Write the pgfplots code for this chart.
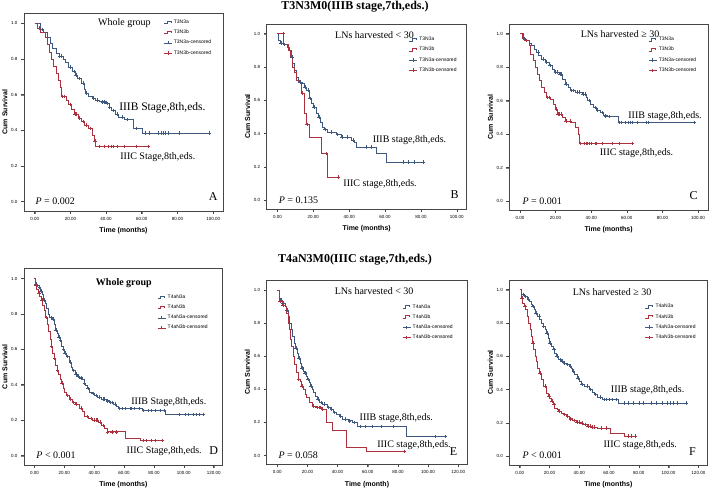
\documentclass[border=0pt]{standalone}
\usepackage{fontspec}
\setmainfont{Liberation Serif}
\setsansfont{Liberation Sans}
\usepackage{pgfplots}
\pgfplotsset{compat=1.18}
\definecolor{kmblue}{RGB}{62,88,128}
\definecolor{kmred}{RGB}{172,48,62}
\definecolor{framec}{RGB}{70,70,70}
\newcommand{\tk}[1]{{\sffamily\fontsize{4.5}{5}\selectfont #1}}
\pgfplotsset{
  km/.style={
    scale only axis, clip=false,
    anchor=south west,
    axis line style={draw=black!80, line width=0.6pt},
    xtick pos=bottom, ytick pos=left, tick align=outside,
    major tick length=3pt,
    ymin=-0.053, ymax=1.058,
    ytick={0,0.2,0.4,0.6,0.8,1},
    yticklabels={\tk{0.0},\tk{0.2},\tk{0.4},\tk{0.6},\tk{0.8},\tk{1.0}},
    xlabel={Time (months)}, ylabel={Cum Survival},
    xlabel style={font=\sffamily\bfseries\fontsize{7}{8}\selectfont, at={(axis description cs:0.5,0)}, anchor=center, yshift=-20pt},
    ylabel style={font=\sffamily\bfseries\fontsize{7}{8}\selectfont, at={(axis description cs:-0.096,0.5)}, anchor=center},
    legend style={draw=none, fill=none, font=\sffamily\fontsize{5}{5.5}\selectfont, inner sep=0pt, row sep=1pt, anchor=north west, cells={anchor=west}},
  },
  kmline/.style={const plot, no marks, line width=0.5pt},
  kmcens/.style={only marks, mark=+, mark size=1.8pt, mark options={line width=0.4pt}},
  kmframe/.style={framec, line width=0.6pt, no marks, forget plot, unbounded coords=jump},
  small3/.style={xmin=-6, xmax=105.5, xtick={0,20,40,60,80,100}, xticklabels={\tk{0.00},\tk{20.00},\tk{40.00},\tk{60.00},\tk{80.00},\tk{100.00}}},
  big3/.style={xmin=-7, xmax=126, xtick={0,20,40,60,80,100,120}, xticklabels={\tk{0.00},\tk{20.00},\tk{40.00},\tk{60.00},\tk{80.00},\tk{100.00},\tk{120.00}}},
  legstep/.style={legend image code/.code={\draw[##1, line width=0.4pt] (0pt,-1pt) -- (3pt,-1pt) -- (3pt,1.5pt) -- (7pt,1.5pt) -- (7pt,0pt);}},
  legcens/.style={legend image code/.code={\draw[##1, line width=0.4pt] (0pt,0pt) -- (8pt,0pt) (4pt,-1.6pt) -- (4pt,1.6pt);}},
}
\newcommand{\framesmall}{\addplot[kmframe] coordinates {(-6,-0.053) (105.5,-0.053) (105.5,1.058) (-6,1.058) (-6,-0.053) (nan,nan) (0,-0.053) (0,-0.07) (nan,nan) (20,-0.053) (20,-0.07) (nan,nan) (40,-0.053) (40,-0.07) (nan,nan) (60,-0.053) (60,-0.07) (nan,nan) (80,-0.053) (80,-0.07) (nan,nan) (100,-0.053) (100,-0.07) (nan,nan) (-6,0) (-7.7,0) (nan,nan) (-6,0.2) (-7.7,0.2) (nan,nan) (-6,0.4) (-7.7,0.4) (nan,nan) (-6,0.6) (-7.7,0.6) (nan,nan) (-6,0.8) (-7.7,0.8) (nan,nan) (-6,1) (-7.7,1)};}
\newcommand{\framebig}{\addplot[kmframe] coordinates {(-7,-0.053) (126,-0.053) (126,1.058) (-7,1.058) (-7,-0.053) (nan,nan) (0,-0.053) (0,-0.07) (nan,nan) (20,-0.053) (20,-0.07) (nan,nan) (40,-0.053) (40,-0.07) (nan,nan) (60,-0.053) (60,-0.07) (nan,nan) (80,-0.053) (80,-0.07) (nan,nan) (100,-0.053) (100,-0.07) (nan,nan) (120,-0.053) (120,-0.07) (nan,nan) (-7,0) (-9,0) (nan,nan) (-7,0.2) (-9,0.2) (nan,nan) (-7,0.4) (-9,0.4) (nan,nan) (-7,0.6) (-9,0.6) (nan,nan) (-7,0.8) (-9,0.8) (nan,nan) (-7,1) (-9,1)};}
\newcommand{\anno}{\fontsize{10}{12}\selectfont}
\begin{document}
\begin{tikzpicture}
\path[use as bounding box] (0pt,0pt) rectangle (709pt,492pt);
\node[font=\bfseries\fontsize{12}{14}\selectfont] at (355pt,485pt) {T3N3M0(IIIB stage,7th,eds.)};
\node[font=\bfseries\fontsize{12}{14}\selectfont] at (355pt,232pt) {T4aN3M0(IIIC stage,7th,eds.)};

% ---------------- A
\begin{axis}[km, small3, at={(24pt,281pt)}, width=199pt, height=198pt,
  legend style={at={(0.70,0.975)}}]
\addlegendimage{kmblue, legstep}\addlegendentry{T3N3a}
\addlegendimage{kmred, legstep}\addlegendentry{T3N3b}
\addlegendimage{kmblue, legcens}\addlegendentry{T3N3a-censored}
\addlegendimage{kmred, legcens}\addlegendentry{T3N3b-censored}
\framesmall
\addplot[kmline, kmblue, forget plot] coordinates {(0,1) (3,0.965) (5,0.95) (7,0.92) (8.5,0.89) (10,0.86) (12,0.83) (13.5,0.815) (16,0.80) (17,0.78) (19,0.755) (21,0.73) (22.5,0.71) (24,0.69) (26,0.665) (27.5,0.63) (28.5,0.61) (30,0.59) (32,0.58) (34,0.57) (36,0.56) (40,0.55) (41.5,0.53) (43,0.51) (45,0.49) (47,0.475) (50,0.46) (55,0.41) (60,0.385) (97.5,0.385)};
\addplot[kmcens, kmblue, forget plot] coordinates {(4,0.965) (14,0.815) (15,0.815) (20,0.755) (22,0.73) (23,0.71) (25,0.69) (27,0.665) (29,0.61) (33,0.58) (35,0.57) (38,0.56) (39,0.56) (40.5,0.55) (42,0.53) (44,0.51) (46,0.49) (49,0.475) (52,0.46) (57,0.41) (62,0.385) (64,0.385) (69,0.385) (71,0.385) (72,0.385) (73,0.385) (75,0.385) (81,0.385) (97.5,0.385)};
\addplot[kmline, kmred, forget plot] coordinates {(0,1) (1.5,0.975) (3,0.95) (6,0.92) (7,0.88) (8,0.84) (9.5,0.80) (10.5,0.76) (12,0.72) (13,0.68) (14.5,0.64) (15,0.59) (17.5,0.57) (19,0.545) (20.5,0.52) (22,0.49) (24.5,0.47) (26,0.45) (27.5,0.43) (30,0.41) (32.5,0.37) (33.5,0.34) (34,0.31) (63.5,0.31)};
\addplot[kmcens, kmred, forget plot] coordinates {(2.5,0.975) (15.5,0.59) (16.5,0.59) (20,0.545) (22.5,0.49) (23.5,0.49) (25,0.47) (27,0.45) (29,0.43) (31,0.41) (33.8,0.34) (36,0.31) (39,0.31) (41,0.31) (43,0.31) (44,0.31) (46,0.31) (50,0.31) (57,0.31) (63.5,0.31)};
\node[font=\anno] at (axis cs:50.3,1.0) {Whole group};
\node[font=\fontsize{11.5}{13}\selectfont, anchor=west] at (axis cs:45.4,0.528) {IIIB Stage,8th,eds.};
\node[font=\anno, anchor=west] at (axis cs:46,0.249) {IIIC Stage,8th,eds.};
\node[font=\anno, anchor=west] at (axis cs:-1.5,0) {\textit{P} = 0.002};
\node[font=\fontsize{12}{14}\selectfont] at (axis cs:100,0.026) {A};
\end{axis}

% ---------------- B
\begin{axis}[km, small3, at={(266.7pt,283pt)}, width=200pt, height=185pt,
  legend style={at={(0.71,0.94)}}]
\addlegendimage{kmblue, legstep}\addlegendentry{T3N3a}
\addlegendimage{kmred, legstep}\addlegendentry{T3N3b}
\addlegendimage{kmblue, legcens}\addlegendentry{T3N3a-censored}
\addlegendimage{kmred, legcens}\addlegendentry{T3N3b-censored}
\framesmall
\addplot[kmline, kmblue, forget plot] coordinates {(0,1) (0.5,0.96) (1.5,0.945) (3,0.935) (5.5,0.92) (6.5,0.90) (7.5,0.86) (8.5,0.82) (9.5,0.78) (10.5,0.74) (11.5,0.71) (14,0.70) (15,0.68) (16,0.66) (17.5,0.61) (19,0.58) (20,0.56) (21.5,0.52) (22.5,0.50) (24,0.47) (25,0.44) (26,0.425) (28,0.41) (33,0.395) (35.5,0.38) (41,0.36) (43,0.345) (44,0.32) (55,0.28) (60.5,0.23) (81,0.23)};
\addplot[kmcens, kmblue, forget plot] coordinates {(2,0.945) (4,0.935) (8,0.86) (12.5,0.71) (15.5,0.68) (17,0.66) (18,0.61) (20.5,0.56) (23,0.50) (26.5,0.425) (30,0.41) (33.5,0.395) (36,0.38) (39,0.38) (42,0.36) (49.5,0.32) (52,0.32) (70,0.23) (73,0.23) (76,0.23) (81,0.23)};
\addplot[kmline, kmred, forget plot] coordinates {(0,1) (3.2,0.935) (6,0.90) (7,0.86) (8,0.80) (9.5,0.77) (10.5,0.72) (12,0.71) (13,0.645) (15.2,0.52) (15.8,0.455) (17.5,0.38) (24.5,0.28) (28,0.14) (34,0.14)};
\addplot[kmcens, kmred, forget plot] coordinates {(3,1) (14,0.645) (16.5,0.455) (27,0.28) (34,0.14)};
\node[font=\anno, anchor=west] at (axis cs:30.2,0.994) {LNs harvested < 30};
\node[font=\anno, anchor=west] at (axis cs:51.2,0.362) {IIIB stage,8th,eds.};
\node[font=\anno, anchor=west] at (axis cs:34.8,0.096) {IIIC stage,8th,eds.};
\node[font=\anno, anchor=west] at (axis cs:-1.2,0) {\textit{P} = 0.135};
\node[font=\fontsize{12}{14}\selectfont] at (axis cs:98.7,0.036) {B};
\end{axis}

% ---------------- C
\begin{axis}[km, small3, at={(509.3pt,282pt)}, width=198.5pt, height=186pt,
  legend style={at={(0.70,0.94)}}]
\addlegendimage{kmblue, legstep}\addlegendentry{T3N3a}
\addlegendimage{kmred, legstep}\addlegendentry{T3N3b}
\addlegendimage{kmblue, legcens}\addlegendentry{T3N3a-censored}
\addlegendimage{kmred, legcens}\addlegendentry{T3N3b-censored}
\framesmall
\addplot[kmline, kmblue, forget plot] coordinates {(0,1) (1.8,0.97) (3,0.96) (5,0.945) (6.5,0.93) (8,0.91) (9,0.89) (10.5,0.87) (12,0.85) (14,0.83) (16.5,0.81) (18,0.79) (19.5,0.77) (22,0.76) (24,0.73) (25.5,0.70) (27,0.68) (28.5,0.66) (31,0.65) (35,0.64) (37,0.62) (38,0.60) (39.5,0.58) (41,0.56) (43,0.545) (45,0.53) (46.5,0.51) (49,0.505) (55,0.47) (98,0.47)};
\addplot[kmcens, kmblue, forget plot] coordinates {(2.5,0.97) (10,0.89) (13,0.85) (15,0.83) (17,0.81) (20,0.77) (21,0.77) (22.5,0.76) (23,0.76) (26,0.70) (29,0.66) (30,0.66) (32,0.65) (33,0.65) (35.5,0.64) (36.5,0.64) (39,0.60) (42,0.56) (43.5,0.545) (46,0.53) (48,0.51) (50,0.505) (56,0.47) (57,0.47) (59,0.47) (61,0.47) (62,0.47) (63,0.47) (66,0.47) (71,0.47) (72,0.47) (98,0.47)};
\addplot[kmline, kmred, forget plot] coordinates {(0,1) (1.5,0.97) (3,0.96) (5,0.93) (6,0.88) (7.5,0.84) (8.5,0.80) (9.5,0.76) (11,0.72) (12,0.68) (13.5,0.65) (15,0.62) (17,0.61) (18.5,0.58) (20,0.55) (21,0.52) (24,0.50) (25.5,0.48) (29,0.47) (31,0.44) (32.5,0.40) (33.5,0.345) (63,0.345)};
\addplot[kmcens, kmred, forget plot] coordinates {(3.5,0.96) (15.5,0.62) (16.5,0.62) (20.5,0.55) (21.5,0.52) (22,0.52) (23,0.52) (26,0.48) (28,0.48) (34,0.345) (36,0.345) (37,0.345) (38,0.345) (39,0.345) (40,0.345) (42,0.345) (43,0.345) (46,0.345) (52,0.345) (56,0.345) (63,0.345)};
\node[font=\anno, anchor=west] at (axis cs:32.2,0.998) {LNs harvested ≥ 30};
\node[font=\anno, anchor=west] at (axis cs:58.9,0.508) {IIIB stage,8th,eds.};
\node[font=\anno, anchor=west] at (axis cs:42.9,0.284) {IIIC stage,8th,eds.};
\node[font=\anno, anchor=west] at (axis cs:-0.5,0) {\textit{P} = 0.001};
\node[font=\fontsize{12}{14}\selectfont] at (axis cs:97.6,0.032) {C};
\end{axis}

% ---------------- D
\begin{axis}[km, big3, at={(24pt,27pt)}, width=198.7pt, height=196.7pt,
  legend style={at={(0.67,0.875)}}]
\addlegendimage{kmblue, legstep}\addlegendentry{T4aN3a}
\addlegendimage{kmred, legstep}\addlegendentry{T4aN3b}
\addlegendimage{kmblue, legcens}\addlegendentry{T4aN3a-censored}
\addlegendimage{kmred, legcens}\addlegendentry{T4aN3b-censored}
\framebig
\addplot[kmline, kmblue, forget plot] coordinates {(0,1) (0.5,0.97) (1.5,0.96) (3,0.95) (4,0.93) (5,0.91) (6,0.88) (7,0.86) (8,0.83) (9,0.80) (10,0.78) (12,0.77) (13,0.74) (14,0.71) (15,0.69) (16,0.67) (17,0.65) (18,0.62) (19,0.60) (20,0.58) (21.5,0.56) (23,0.53) (24.5,0.50) (25.5,0.48) (27,0.46) (28.5,0.45) (30,0.44) (32,0.43) (33,0.41) (34,0.40) (35.5,0.38) (37,0.36) (38.5,0.35) (40,0.34) (42,0.33) (45,0.32) (48,0.31) (50,0.30) (53,0.29) (55,0.28) (56,0.265) (72,0.255) (87.5,0.232) (113,0.232)};
\addplot[kmcens, kmblue, forget plot] coordinates {(1,0.97) (2,0.96) (3.5,0.95) (4.5,0.93) (6.5,0.88) (11,0.78) (12.5,0.77) (14.5,0.71) (16.5,0.67) (17.5,0.65) (19.5,0.60) (20.5,0.58) (22,0.56) (24,0.53) (26,0.48) (28,0.46) (29,0.45) (31,0.44) (33.5,0.41) (36,0.38) (39,0.35) (41,0.34) (43,0.33) (46,0.32) (47,0.32) (49,0.31) (51,0.30) (52,0.30) (54,0.29) (57,0.265) (59,0.265) (61,0.265) (64,0.265) (65,0.265) (67,0.265) (70,0.265) (73,0.255) (76,0.255) (78,0.255) (81,0.255) (84,0.255) (87,0.255) (97,0.232) (101,0.232) (103,0.232) (106,0.232) (108,0.232) (110,0.232) (113,0.232)};
\addplot[kmline, kmred, forget plot] coordinates {(0,1) (0.5,0.96) (1.5,0.94) (2.5,0.92) (3.5,0.90) (4.5,0.88) (5.5,0.85) (6.5,0.82) (7.5,0.78) (8.5,0.74) (9.5,0.70) (10.3,0.66) (11,0.62) (12,0.58) (13,0.55) (14,0.51) (15,0.48) (16,0.46) (17,0.43) (18,0.41) (19,0.38) (20,0.36) (21,0.34) (23,0.32) (25,0.30) (27,0.29) (30,0.27) (32,0.25) (33.5,0.22) (36,0.21) (39,0.20) (43,0.19) (45,0.17) (47,0.155) (48.5,0.135) (61,0.10) (71,0.085) (85.5,0.085)};
\addplot[kmcens, kmred, forget plot] coordinates {(1,0.96) (3,0.92) (5,0.88) (8,0.78) (11.5,0.62) (13.5,0.55) (15.5,0.48) (18.5,0.41) (22,0.34) (24,0.32) (26,0.30) (28,0.29) (31,0.27) (35,0.22) (38,0.21) (40,0.20) (41,0.20) (42,0.20) (44,0.19) (46,0.17) (49,0.135) (52,0.135) (55,0.135) (73,0.085) (75,0.085) (78,0.085) (81,0.085) (85.5,0.085)};
\node[font=\anno\bfseries] at (axis cs:59.8,0.976) {Whole group};
\node[font=\anno, anchor=west] at (axis cs:62.5,0.305) {IIIB Stage,8th,eds.};
\node[font=\anno, anchor=west] at (axis cs:59.4,0.028) {IIIC Stage,8th,eds.};
\node[font=\anno, anchor=west] at (axis cs:-1,0.004) {\textit{P} < 0.001};
\node[font=\fontsize{12}{14}\selectfont] at (axis cs:120,0.026) {D};
\end{axis}

% ---------------- E
\begin{axis}[km, big3, at={(266.7pt,27.7pt)}, width=200.6pt, height=184pt,
  xlabel={Time (month)}, legend style={at={(0.675,0.88)}}]
\addlegendimage{kmblue, legstep}\addlegendentry{T4aN3a}
\addlegendimage{kmred, legstep}\addlegendentry{T4aN3b}
\addlegendimage{kmblue, legcens}\addlegendentry{T4aN3a-censored}
\addlegendimage{kmred, legcens}\addlegendentry{T4aN3b-censored}
\framebig
\addplot[kmline, kmblue, forget plot] coordinates {(0,1) (1,0.95) (2,0.94) (3,0.92) (5,0.90) (6,0.88) (7,0.84) (8,0.80) (9,0.76) (10,0.72) (11,0.68) (12,0.65) (13,0.62) (14,0.59) (15,0.56) (16,0.53) (17,0.51) (18,0.50) (19,0.48) (20,0.46) (21,0.44) (22,0.42) (23,0.40) (24,0.38) (25,0.36) (26.5,0.34) (28,0.32) (30,0.31) (33,0.29) (35,0.28) (37,0.26) (39,0.25) (41,0.24) (43,0.22) (47,0.21) (50,0.20) (53,0.175) (85.5,0.115) (111.5,0.115)};
\addplot[kmcens, kmblue, forget plot] coordinates {(2.5,0.94) (4,0.92) (6.5,0.88) (12.5,0.65) (14.5,0.59) (16.5,0.53) (18.5,0.50) (20.5,0.46) (22.5,0.42) (27,0.34) (29,0.32) (31,0.31) (34,0.29) (36,0.28) (38,0.26) (42,0.24) (45,0.22) (48,0.21) (51,0.20) (55,0.175) (58,0.175) (63,0.175) (69,0.175) (77,0.175) (105,0.115) (111.5,0.115)};
\addplot[kmline, kmred, forget plot] coordinates {(0,1) (1,0.93) (3,0.91) (5,0.90) (6,0.86) (7,0.80) (8,0.76) (8.8,0.70) (9.5,0.66) (10.4,0.60) (11.5,0.55) (12.5,0.50) (13.7,0.46) (15,0.45) (16,0.42) (17,0.40) (18.5,0.37) (19.5,0.35) (21.5,0.32) (23.5,0.30) (26,0.29) (29,0.28) (32.5,0.20) (36.5,0.155) (46,0.05) (59,0.025) (84,0.025)};
\addplot[kmcens, kmred, forget plot] coordinates {(2,0.93) (4,0.91) (14,0.46) (16.5,0.42) (24,0.30) (26.5,0.29) (27.5,0.29) (28.5,0.29) (30,0.28) (84,0.025)};
\node[font=\anno, anchor=west] at (axis cs:35.8,0.99) {LNs harvested < 30};
\node[font=\anno, anchor=west] at (axis cs:52.3,0.226) {IIIB stage,8th,eds.};
\node[font=\anno, anchor=west] at (axis cs:64,0.065) {IIIC stage,8th,eds.};
\node[font=\anno, anchor=west] at (axis cs:-1.5,0.004) {\textit{P} = 0.058};
\node[font=\fontsize{12}{14}\selectfont] at (axis cs:116.8,0.024) {E};
\end{axis}

% ---------------- F
\begin{axis}[km, big3, at={(509.3pt,27pt)}, width=198pt, height=185pt,
  legend style={at={(0.685,0.88)}}]
\addlegendimage{kmblue, legstep}\addlegendentry{T4aN3a}
\addlegendimage{kmred, legstep}\addlegendentry{T4aN3b}
\addlegendimage{kmblue, legcens}\addlegendentry{T4aN3a-censored}
\addlegendimage{kmred, legcens}\addlegendentry{T4aN3b-censored}
\framebig
\addplot[kmline, kmblue, forget plot] coordinates {(0,1) (1,0.97) (3,0.96) (5,0.945) (6.2,0.93) (7.5,0.91) (8.4,0.90) (9.5,0.88) (10.7,0.86) (12,0.84) (13.3,0.82) (14.5,0.80) (15.6,0.78) (17,0.76) (17.8,0.74) (19,0.71) (20,0.68) (21,0.66) (22.2,0.64) (23.3,0.62) (24.4,0.60) (26,0.58) (27.8,0.57) (29.5,0.56) (31.1,0.55) (33,0.54) (34.4,0.53) (35.5,0.51) (36.7,0.49) (38.5,0.47) (40,0.45) (41.5,0.43) (43.3,0.42) (46.7,0.40) (48.5,0.385) (50,0.37) (52,0.355) (55.6,0.34) (66,0.32) (111.6,0.32)};
\addplot[kmcens, kmblue, forget plot] coordinates {(2,0.97) (4,0.96) (6,0.945) (9,0.90) (11,0.86) (13,0.84) (16,0.78) (18.5,0.74) (20.5,0.68) (23,0.64) (25,0.60) (27,0.58) (28.5,0.57) (30,0.56) (32,0.55) (34,0.54) (36,0.51) (39,0.47) (42,0.43) (45,0.42) (47.5,0.40) (51,0.37) (54,0.355) (57,0.34) (58,0.34) (60,0.34) (62,0.34) (65,0.34) (70,0.32) (73,0.32) (76,0.32) (80,0.32) (83,0.32) (88,0.32) (92,0.32) (96,0.32) (99,0.32) (101,0.32) (103,0.32) (106,0.32) (111.6,0.32)};
\addplot[kmline, kmred, forget plot] coordinates {(0,1) (1,0.95) (2,0.92) (3,0.90) (4,0.88) (5,0.84) (6,0.80) (7,0.76) (7.8,0.72) (8.5,0.68) (9.3,0.64) (10.2,0.60) (11.1,0.57) (12,0.53) (12.9,0.50) (14.4,0.46) (16,0.42) (17.8,0.38) (19,0.36) (20,0.35) (21,0.33) (22.2,0.31) (23.5,0.29) (24.9,0.28) (26,0.27) (27.8,0.26) (29.5,0.25) (31.1,0.24) (33,0.225) (35.6,0.215) (38,0.205) (41.1,0.20) (43,0.19) (45.6,0.18) (48,0.175) (52,0.17) (61.1,0.14) (70,0.12) (77.8,0.12)};
\addplot[kmcens, kmred, forget plot] coordinates {(1.5,0.95) (3.5,0.90) (9,0.68) (13.5,0.50) (17,0.42) (19.5,0.36) (21.5,0.33) (23,0.31) (26.5,0.27) (30,0.25) (32,0.24) (34,0.225) (36.5,0.215) (38.5,0.205) (40,0.205) (42,0.20) (44,0.19) (46,0.18) (47,0.18) (49,0.175) (50,0.175) (55,0.17) (58,0.17) (73,0.12) (75,0.12) (77.8,0.12)};
\node[font=\anno, anchor=west] at (axis cs:33.3,0.984) {LNs harvested ≥ 30};
\node[font=\anno, anchor=west] at (axis cs:58.9,0.398) {IIIB stage,8th,eds.};
\node[font=\anno, anchor=west] at (axis cs:54,0.068) {IIIC stage,8th,eds.};
\node[font=\anno, anchor=west] at (axis cs:-0.5,0.008) {\textit{P} < 0.001};
\node[font=\fontsize{12}{14}\selectfont] at (axis cs:116,0.028) {F};
\end{axis}
\end{tikzpicture}
\end{document}
